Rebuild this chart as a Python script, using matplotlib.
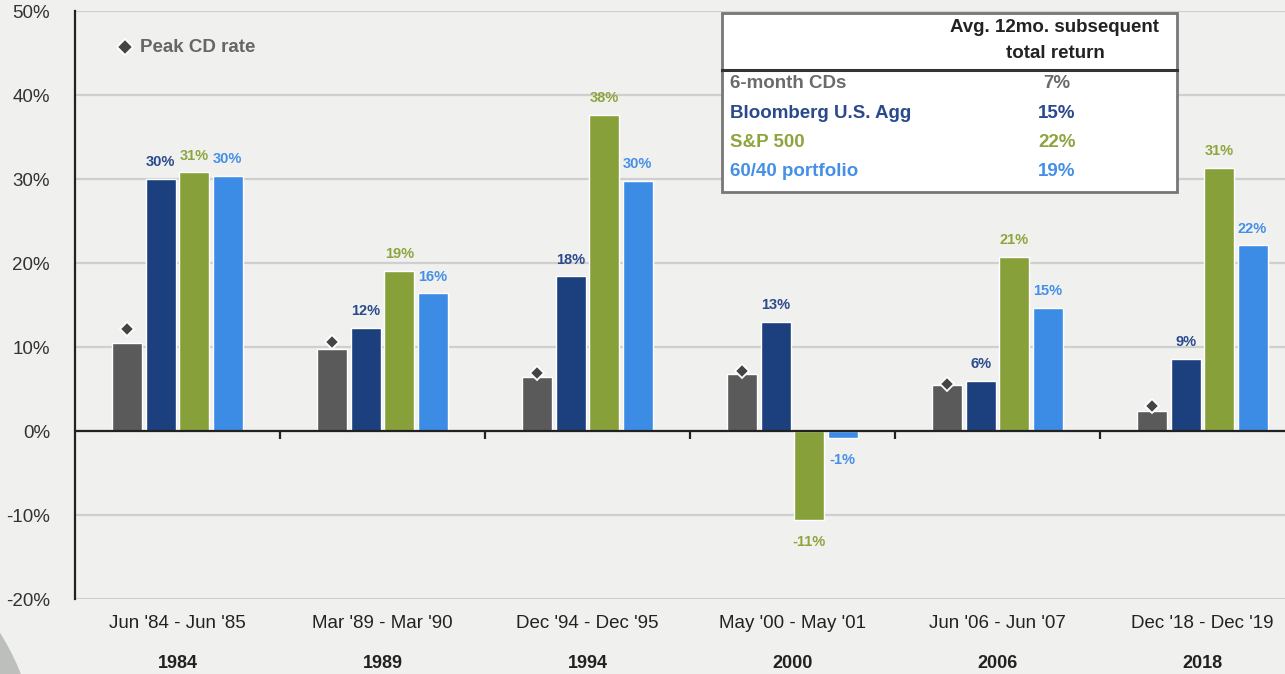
import numpy as np
import matplotlib.pyplot as plt
from matplotlib.patches import Rectangle, Circle
from matplotlib.transforms import blended_transform_factory

plt.rcParams['font.family'] = ['Liberation Sans', 'DejaVu Sans']

# Rate-peak episodes and the returns in the 12 months after each peak
periods = ["Jun '84 - Jun '85", "Mar '89 - Mar '90", "Dec '94 - Dec '95",
           "May '00 - May '01", "Jun '06 - Jun '07", "Dec '18 - Dec '19"]
years = ['1984', '1989', '1994', '2000', '2006', '2018']
cd_avg = [10.5, 9.8, 6.4, 6.8, 5.5, 2.4]       # 6-month CDs
cd_peak = [12.2, 10.6, 6.9, 7.2, 5.6, 3.0]     # peak CD rate
agg = [30.0, 12.3, 18.4, 13.0, 6.0, 8.6]       # Bloomberg U.S. Agg
spx = [30.8, 19.1, 37.6, -10.6, 20.7, 31.3]    # S&P 500
sixty40 = [30.4, 16.4, 29.8, -0.8, 14.7, 22.1]  # 60/40 portfolio

table_rows = ['6-month CDs', 'Bloomberg U.S. Agg', 'S&P 500', '60/40 portfolio']
table_avg = [7, 15, 22, 19]

W, H = 1285, 674
bg = '#f0f1ef'
grey, navy, green, blue = '#5a5a5a', '#1c3f7e', '#87a03a', '#3c8ce6'
txt_cols = ['#6b6b6b', '#2a4a8c', '#8ea53f', '#4590e6']

fig = plt.figure(figsize=(W / 100, H / 100), dpi=100, facecolor=bg)
ax = fig.add_axes([75 / W, 75 / H, 1230 / W, 588 / H])
ax.set_facecolor(bg)
ax.set_xlim(-0.5, 5.5)
ax.set_ylim(-20, 50)

ax.set_yticks(range(-20, 51, 10))
ax.set_yticklabels([f"{v}%" for v in range(-20, 51, 10)])
ax.tick_params(axis='y', length=0, pad=18, labelsize=13.5, labelcolor='#333333')
ax.set_xticks([])
ax.yaxis.grid(True, color='#cfcfcf', lw=1.6)
ax.set_axisbelow(True)
for s in ['top', 'right', 'bottom']:
    ax.spines[s].set_visible(False)
ax.spines['left'].set_color('#222222')
ax.spines['left'].set_linewidth(1.6)

x = np.arange(len(periods))
step, w = 0.163, 0.146
series = [(cd_avg, grey, None), (agg, navy, txt_cols[1]),
          (spx, green, txt_cols[2]), (sixty40, blue, txt_cols[3])]
for k, (vals, col, tcol) in enumerate(series):
    xs = x + (k - 1.5) * step
    ax.bar(xs, vals, w, color=col, edgecolor='white', lw=1, zorder=3)
    if tcol is None:
        continue
    for xi, v in zip(xs, vals):
        up = v >= 0
        ax.annotate(f"{v:.0f}%", (xi, v), xytext=(0, 7 if up else -11),
                    textcoords='offset points', ha='center',
                    va='bottom' if up else 'top', fontsize=10.5,
                    fontweight='bold', color=tcol, zorder=5)

ax.plot(x - 1.5 * step, cd_peak, 'D', color='#444444', mec='white',
        mew=1.3, ms=7, zorder=4, ls='none')

# zero line with ticks between the periods
ax.axhline(0, color='#222222', lw=1.6, zorder=4)
bounds = np.arange(0.5, len(periods) - 0.5, 1)
ax.plot(bounds, np.zeros_like(bounds), ls='none', marker=3, ms=6,
        mew=1.6, color='#222222', zorder=4, clip_on=False)

trans = blended_transform_factory(ax.transData, fig.transFigure)
for xi, p, yr in zip(x, periods, years):
    ax.text(xi, (H - 624) / H, p, transform=trans, ha='center', va='center',
            fontsize=13.5, color='#222222')
    ax.text(xi, (H - 663) / H, yr, transform=trans, ha='center', va='center',
            fontsize=13, fontweight='bold', color='#222222')

# overlay in pixel units for the table, legend and corner shape
ov = fig.add_axes([0, 0, 1, 1], zorder=5)
ov.set_xlim(0, W)
ov.set_ylim(H, 0)
ov.axis('off')
ov.patch.set_alpha(0)

ov.add_patch(Circle((-200, 760), 237, fc='#bcbfbc', ec='none'))

ov.plot(125, 47, 'D', color='#444444', mec='white', mew=1.3, ms=8)
ov.text(140, 47, 'Peak CD rate', ha='left', va='center', fontsize=13.5,
        fontweight='bold', color='#666666')

ov.add_patch(Rectangle((722, 13), 455, 179, fc='white', ec='#777777', lw=2))
ov.plot([722, 1177], [70, 70], color='#333333', lw=2.2)
ov.text(1055, 28, 'Avg. 12mo. subsequent', ha='center', va='center',
        fontsize=13.5, fontweight='bold', color='#222222')
ov.text(1055, 53, 'total return', ha='center', va='center',
        fontsize=13.5, fontweight='bold', color='#222222')
for i, (name, val) in enumerate(zip(table_rows, table_avg)):
    ry = 84 + i * 29.3
    ov.text(730, ry, name, ha='left', va='center', fontsize=13.5,
            fontweight='bold', color=txt_cols[i])
    ov.text(1057, ry, f"{val}%", ha='center', va='center', fontsize=13.5,
            fontweight='bold', color=txt_cols[i])

fig.savefig('out.png', dpi=100, facecolor=bg)
